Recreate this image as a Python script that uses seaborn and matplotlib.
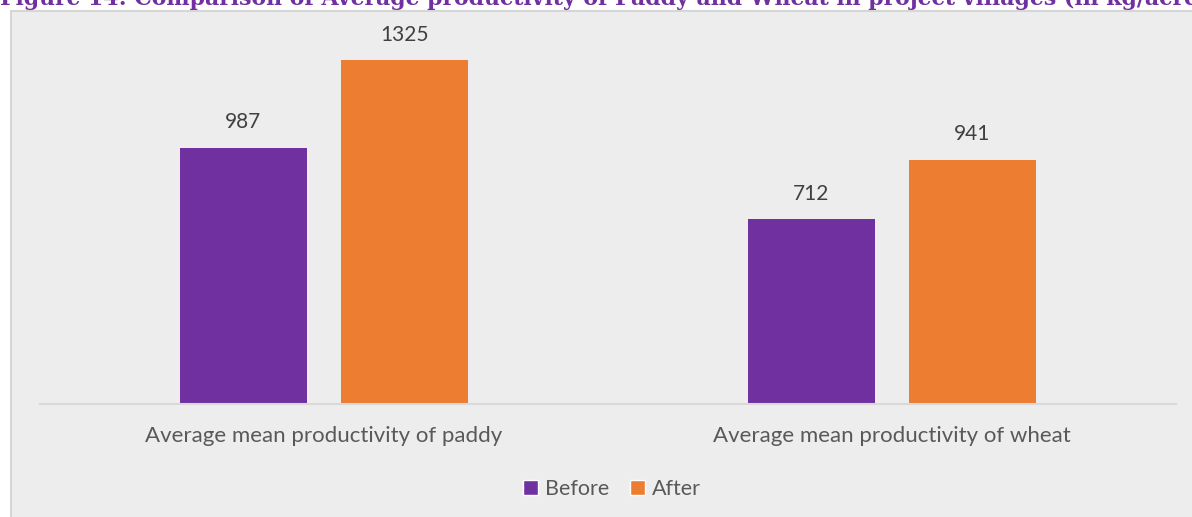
import matplotlib
matplotlib.use("Agg")
import matplotlib.pyplot as plt
from matplotlib.patches import Rectangle
import seaborn as sns
import pandas as pd

# Chart data
crops = ["Average mean productivity of paddy", "Average mean productivity of wheat"]
periods = ["Before", "After"]
before_vals = [987, 712]
after_vals = [1325, 941]
colors = {"Before": "#7030A0", "After": "#ED7D31"}
title = ("Figure 14: Comparison of Average productivity of Paddy and Wheat "
         "in project villages (in kg/acre)")

df = pd.DataFrame({
    "crop": crops * 2,
    "period": ["Before"] * len(crops) + ["After"] * len(crops),
    "value": before_vals + after_vals,
})

sns.set_theme(style="white")
plt.rcParams["font.family"] = ["Lato", "DejaVu Sans"]

W, H = 1192, 517
fig = plt.figure(figsize=(W / 100, H / 100), dpi=100, facecolor="white")

# light grey chart panel with thin border
panel = Rectangle((11 / W, -0.01), 1.02, 1 - 11 / H + 0.01, transform=fig.transFigure,
                  facecolor="#EDEDED", edgecolor="#D6D6D6", linewidth=1.5, zorder=-5)
fig.patches.append(panel)

# plot area: baseline at y=404 px, x from 40 to 1176 px
scale = 344 / 1325  # px per unit
ymax = 1400
ax_top = 404 - ymax * scale
ax = fig.add_axes([40 / W, 1 - 404 / H, (1176 - 40) / W, (404 - ax_top) / H])
ax.set_facecolor("none")
ax.set_zorder(2)

sns.barplot(data=df, x="crop", y="value", hue="period", hue_order=periods,
            palette=colors, width=0.567, gap=0.21, ax=ax, legend=False,
            saturation=1, errorbar=None, linewidth=0)

for cont in ax.containers:
    ax.bar_label(cont, fmt="%d", padding=11, fontsize=15, color="#404040")

ax.set_xlim(-0.5, 1.5)
ax.set_ylim(0, ymax)
ax.set_xlabel("")
ax.set_ylabel("")
ax.set_yticks([])
for s in ["top", "right", "left"]:
    ax.spines[s].set_visible(False)
ax.spines["bottom"].set_color("#D9D9D9")
ax.spines["bottom"].set_linewidth(1.5)
ax.tick_params(axis="x", length=0, pad=16, labelsize=16, labelcolor="#595959")

# legend
handles = [Rectangle((0, 0), 1, 1, facecolor=colors[p]) for p in periods]
fig.legend(handles, periods, loc="center", bbox_to_anchor=(612 / W, 1 - 489 / H),
           ncol=2, frameon=False, fontsize=15.5, labelcolor="#595959",
           handlelength=0.7, handleheight=0.7, handletextpad=0.3, columnspacing=1.0)

# figure caption, running off the top edge
fig.text(0 / W, 1 - 5.5 / H, title, ha="left", va="baseline", fontsize=15.8,
         fontweight="bold", color="#7030A0", family=["DejaVu Serif"])

fig.savefig("out.png", dpi=100, facecolor="white")
